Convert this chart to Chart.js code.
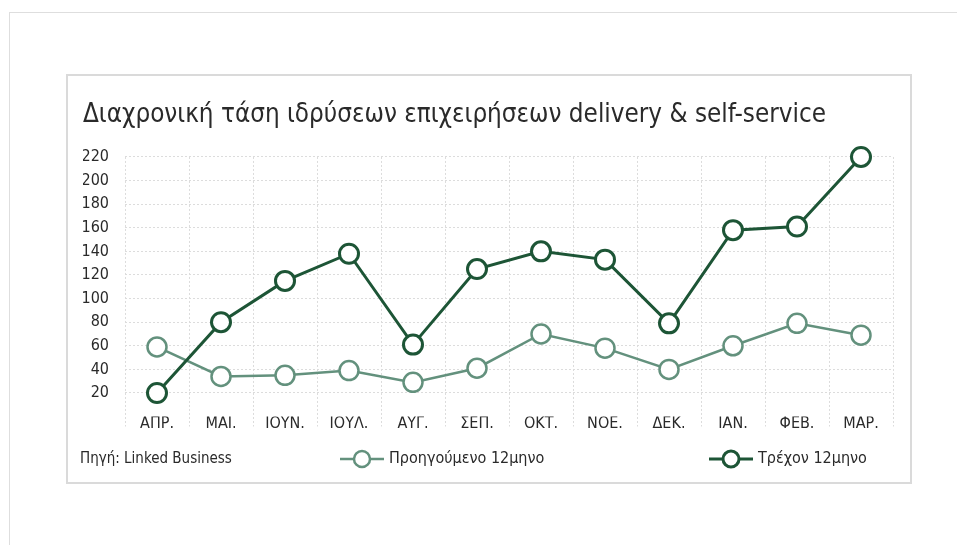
<!DOCTYPE html>
<html lang="el">
<head>
<meta charset="utf-8">
<title>Διαχρονική τάση ιδρύσεων επιχειρήσεων delivery &amp; self-service</title>
<script src="https://cdn.jsdelivr.net/npm/chart.js@4.4.1/dist/chart.umd.min.js"></script>
<style>
  html, body { margin: 0; padding: 0; background: #fff; }
  body { width: 957px; height: 545px; position: relative; overflow: hidden; }
  .marco { position: absolute; left: 9px; top: 12px; right: -5px; bottom: -5px;
           border-top: 1px solid #dedede; border-left: 1px solid #dedede; }
  .caja { position: absolute; left: 66px; top: 74px; width: 842px; height: 406px;
          border: 2px solid #dadada; background: #fff; }
  canvas { display: block; }
</style>
</head>
<body>
<div class="marco"></div>
<div class="caja"><canvas id="grafico" width="842" height="406"></canvas></div>

<script>
// ---------- datos ----------
const titulo = 'Διαχρονική τάση ιδρύσεων επιχειρήσεων delivery & self-service';
const fuente = 'Πηγή: Linked Business';
const meses = ['ΑΠΡ.', 'ΜΑΪ.', 'ΙΟΥΝ.', 'ΙΟΥΛ.', 'ΑΥΓ.', 'ΣΕΠ.', 'ΟΚΤ.', 'ΝΟΕ.', 'ΔΕΚ.', 'ΙΑΝ.', 'ΦΕΒ.', 'ΜΑΡ.'];
const nombreAnterior = 'Προηγούμενο 12μηνο';
const nombreActual = 'Τρέχον 12μηνο';
const serieAnterior = [59, 34, 35, 39, 29, 41, 70, 58, 40, 60, 79, 69];
const serieActual = [20, 80, 115, 138, 61, 125, 140, 133, 79, 158, 161, 220];
const ticksY = [20, 40, 60, 80, 100, 120, 140, 160, 180, 200, 220];

// ---------- estilo ----------
const FAM = "'Liberation Sans Narrow', 'DejaVu Sans Condensed', 'Open Sans', sans-serif";
const VERDE_OSC = '#1d5536';
const VERDE_CLA = '#63917d';
const GRILLA = '#dcdcdc';

// leyenda dibujada debajo del eje x (linea - circulo - linea)
const leyendaPie = {
  id: 'leyendaPie',
  afterDraw(chart, args, opts) {
    const ctx = chart.ctx;
    ctx.save();
    ctx.textBaseline = 'middle';
    ctx.textAlign = 'left';
    ctx.fillStyle = opts.color;
    ctx.font = `${opts.sizeFuente}px ${FAM}`;
    ctx.fillText(opts.fuente, opts.fuenteX, opts.y);

    ctx.font = `${opts.size}px ${FAM}`;
    opts.items.forEach(it => {
      const ds = chart.data.datasets[it.ds];
      ctx.strokeStyle = ds.borderColor;
      ctx.lineWidth = ds.borderWidth;
      ctx.beginPath();
      ctx.moveTo(it.x, opts.y);
      ctx.lineTo(it.x + 44, opts.y);
      ctx.stroke();
      ctx.beginPath();
      ctx.arc(it.x + 22, opts.y, 8, 0, Math.PI * 2);
      ctx.fillStyle = '#fff';
      ctx.fill();
      ctx.lineWidth = ds.pointBorderWidth;
      ctx.stroke();
      ctx.fillStyle = opts.color;
      ctx.fillText(ds.label, it.x + 49, opts.y);
    });
    ctx.restore();
  }
};

const chart = new Chart(document.getElementById('grafico'), {
  type: 'line',
  data: {
    labels: meses,
    datasets: [
      {
        label: nombreAnterior,
        data: serieAnterior,
        borderColor: VERDE_CLA,
        borderWidth: 2.5,
        pointRadius: 9.5,
        pointBorderWidth: 2.5,
        pointBackgroundColor: '#fff',
        pointBorderColor: VERDE_CLA,
        tension: 0,
        clip: false,
        order: 2
      },
      {
        label: nombreActual,
        data: serieActual,
        borderColor: VERDE_OSC,
        borderWidth: 3,
        pointRadius: 9.5,
        pointBorderWidth: 3,
        pointBackgroundColor: '#fff',
        pointBorderColor: VERDE_OSC,
        tension: 0,
        clip: false,
        order: 1
      }
    ]
  },
  options: {
    responsive: false,
    animation: false,
    events: [],
    layout: { padding: { left: 15, right: 17, top: 0, bottom: 45.4 } },
    plugins: {
      legend: { display: false },
      tooltip: { enabled: false },
      title: {
        display: true,
        text: titulo,
        align: 'start',
        color: '#2a2a2a',
        font: { family: FAM, size: 25.8, weight: 'normal', lineHeight: 1.2 },
        padding: { top: 24, bottom: 26 }
      },
      leyendaPie: {
        fuente: fuente,
        fuenteX: 12,
        y: 383,
        size: 16,
        sizeFuente: 15,
        color: '#2a2a2a',
        items: [{ ds: 0, x: 272 }, { ds: 1, x: 641 }]
      }
    },
    scales: {
      x: {
        offset: true,
        grid: {
          offset: true,
          color: GRILLA,
          drawTicks: true,
          tickLength: 10,
          tickColor: GRILLA,
          tickBorderDash: [2, 2]
        },
        border: { display: false, dash: [2, 2] },
        ticks: {
          color: '#2a2a2a',
          padding: -12.7,
          maxRotation: 0,
          autoSkip: false,
          font: { family: FAM, size: 16 }
        },
        afterFit: (s) => { s.height = 20; }
      },
      y: {
        min: 0,
        max: 220,
        afterBuildTicks: (s) => { s.ticks = ticksY.map(v => ({ value: v })); },
        grid: { color: GRILLA, drawTicks: false },
        border: { display: false, dash: [2, 2] },
        ticks: {
          color: '#2a2a2a',
          padding: 16,
          font: { family: FAM, size: 16 }
        },
        afterFit: (s) => { s.width = 42; }
      }
    }
  },
  plugins: [leyendaPie]
});
</script>
</body>
</html>
